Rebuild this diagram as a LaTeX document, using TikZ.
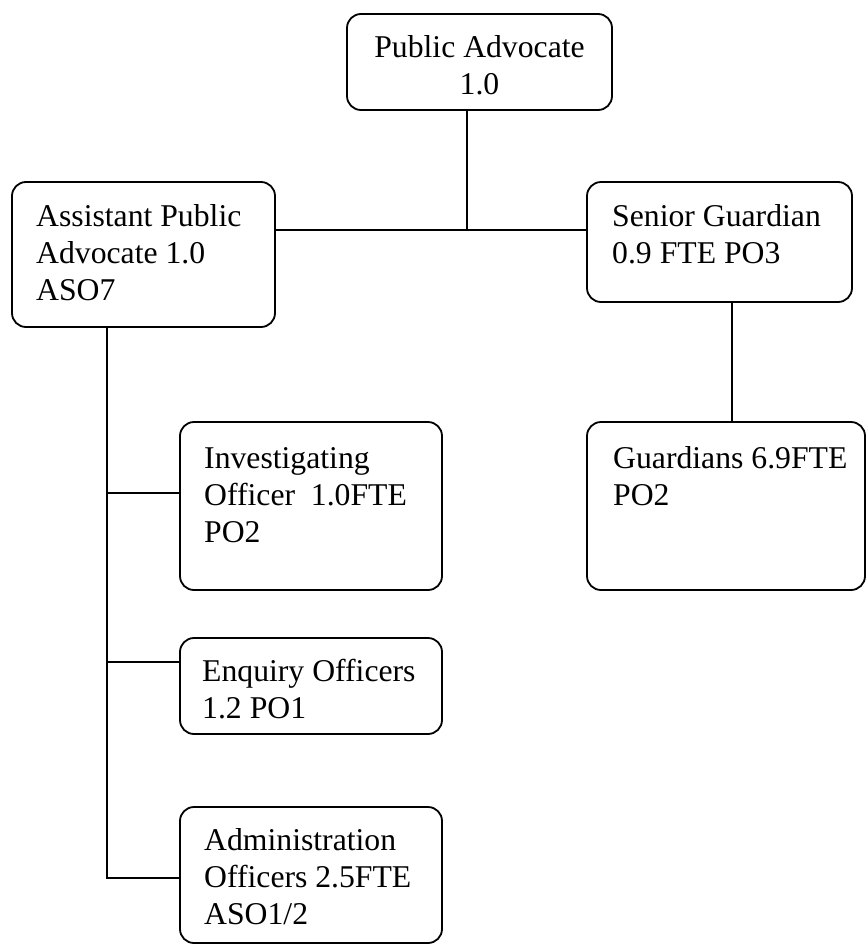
\documentclass[tikz,border=0pt]{standalone}
\usepackage{fontspec}
\setmainfont{Liberation Serif}
\begin{document}
\begin{tikzpicture}[x=1pt,y=-1pt,
  orgbox/.style={draw, rounded corners=14pt, line width=1.8pt, inner sep=0pt, anchor=center},
  boxtext/.style={inner sep=0pt, anchor=base west, align=left, font=\fontsize{31.7}{36.7}\selectfont},
  link/.style={line width=1.5pt}]
\useasboundingbox (0,0) rectangle (866,945);
% boxes
\node[orgbox, minimum width=265pt, minimum height=96pt] (pa) at (479.5,62) {};
\node[orgbox, minimum width=263pt, minimum height=145pt] (apa) at (143.5,254.5) {};
\node[orgbox, minimum width=265pt, minimum height=120pt] (sg) at (719.5,242) {};
\node[orgbox, minimum width=262pt, minimum height=168pt] (inv) at (311,506) {};
\node[orgbox, minimum width=278pt, minimum height=168pt] (gd) at (726,506) {};
\node[orgbox, minimum width=262pt, minimum height=96pt] (enq) at (311,686) {};
\node[orgbox, minimum width=262pt, minimum height=136pt] (adm) at (311,875) {};
% texts (anchored at the baseline of their last line)
\node[boxtext, anchor=base, align=center] (tpa) at (479.5,94) {Public Advocate\\1.0};
\node[boxtext] (tapa) at (36,300) {Assistant Public\\Advocate 1.0\\ASO7};
\node[boxtext] (tsg) at (612,263) {Senior Guardian\\0.9 FTE PO3};
\node[boxtext] (tinv) at (204,542) {Investigating\\Officer\ \ 1.0FTE\\PO2};
\node[boxtext] (tgd) at (613,505) {Guardians 6.9FTE\\PO2};
\node[boxtext] (tenq) at (202,718) {Enquiry Officers\\1.2 PO1};
\node[boxtext] (tadm) at (204,924) {Administration\\Officers 2.5FTE\\ASO1/2};
% junctions
\coordinate (j1) at (467,230);
\coordinate (j2) at (732,302);
\coordinate (jv) at (107,327);
\coordinate (b1) at (107,493);
\coordinate (b2) at (107,662);
\coordinate (b3) at (107,878);
% connectors
\draw[link] (j1 |- pa.south) -- (j1);
\draw[link] (apa.east |- j1) -- (sg.west |- j1);
\draw[link] (j2 |- sg.south) -- (j2 |- gd.north);
\draw[link] (jv |- apa.south) -- (b3) -- (b3 -| adm.west);
\draw[link] (b1) -- (b1 -| inv.west);
\draw[link] (b2) -- (b2 -| enq.west);
\end{tikzpicture}
\end{document}
